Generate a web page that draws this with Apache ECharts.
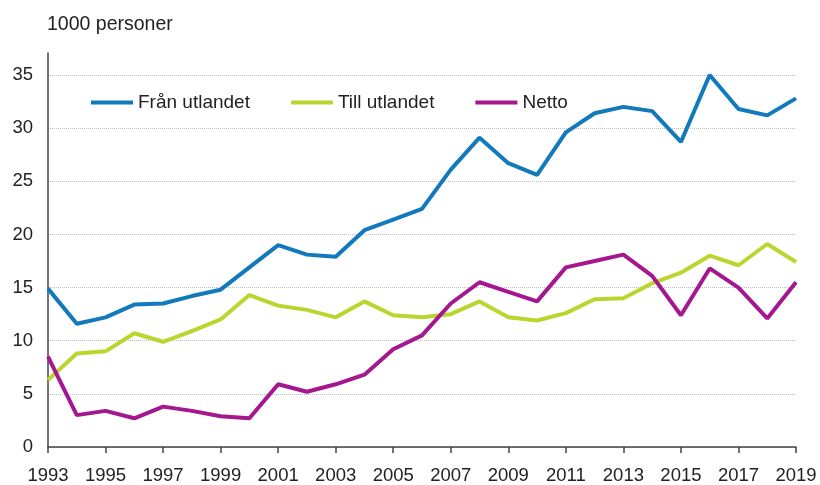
<!DOCTYPE html>
<html>
<head>
<meta charset="utf-8">
<script src="https://cdn.jsdelivr.net/npm/echarts@6/dist/echarts.min.js"></script>
<style>
  html, body { margin: 0; padding: 0; background: #fff; }
  #chart { width: 820px; height: 485px; }
</style>
</head>
<body>
<div id="chart"></div>
<script>
// Years on the x axis
const years = [
  "1993", "1994", "1995", "1996", "1997", "1998", "1999", "2000", "2001",
  "2002", "2003", "2004", "2005", "2006", "2007", "2008", "2009", "2010",
  "2011", "2012", "2013", "2014", "2015", "2016", "2017", "2018", "2019"
];

// Immigration, 1000 persons
const franUtlandet = [
  14.9, 11.6, 12.2, 13.4, 13.5, 14.2, 14.8, 16.9, 19.0,
  18.1, 17.9, 20.4, 21.4, 22.4, 26.1, 29.1, 26.7, 25.6,
  29.6, 31.4, 32.0, 31.6, 28.7, 35.0, 31.8, 31.2, 32.8
];

// Emigration, 1000 persons
const tillUtlandet = [
  6.3, 8.8, 9.0, 10.7, 9.9, 10.9, 12.0, 14.3, 13.3,
  12.9, 12.2, 13.7, 12.4, 12.2, 12.5, 13.7, 12.2, 11.9,
  12.6, 13.9, 14.0, 15.4, 16.4, 18.0, 17.1, 19.1, 17.4
];

// Net migration, 1000 persons
const netto = [
  8.5, 3.0, 3.4, 2.7, 3.8, 3.4, 2.9, 2.7, 5.9,
  5.2, 5.9, 6.8, 9.2, 10.5, 13.5, 15.5, 14.6, 13.7,
  16.9, 17.5, 18.1, 16.1, 12.4, 16.8, 15.0, 12.1, 15.5
];

const font = "Liberation Sans, Arial, sans-serif";
const textColor = "#222";

const chart = echarts.init(document.getElementById("chart"), null, { renderer: "canvas" });

chart.setOption({
  animation: false,
  color: ["#1279bd", "#bcd52e", "#a5178f"],
  title: {
    text: "1000 personer",
    left: 42,
    top: 10,
    textStyle: { fontFamily: font, fontSize: 19.5, fontWeight: "normal", color: textColor }
  },
  legend: {
    left: 86,
    top: 88,
    itemWidth: 42,
    itemHeight: 4,
    itemGap: 41,
    icon: "rect",
    textStyle: { fontFamily: font, fontSize: 19, color: textColor }
  },
  grid: [
    { left: 48, right: 24, top: 75, bottom: 38 },
    // only used to draw the taller y axis line
    { left: 48, right: 24, top: 53, bottom: 38 }
  ],
  xAxis: [
    {
      type: "category",
      gridIndex: 0,
      data: years,
      boundaryGap: false,
      axisLine: { lineStyle: { color: "#444", width: 1.5 } },
      axisTick: { interval: 1, length: 6, lineStyle: { color: "#444", width: 1.5 } },
      axisLabel: { interval: 1, margin: 19, fontFamily: font, fontSize: 18.5, color: textColor }
    },
    { type: "category", gridIndex: 1, data: years, show: false }
  ],
  yAxis: [
    {
      type: "value",
      gridIndex: 0,
      min: 0,
      max: 35,
      interval: 5,
      axisLine: { show: false },
      axisTick: { show: false },
      axisLabel: { margin: 15, fontFamily: font, fontSize: 18.5, color: textColor },
      splitLine: { lineStyle: { color: "#bdbdbd", type: "dotted", width: 1 } }
    },
    {
      type: "value",
      gridIndex: 1,
      min: 0,
      max: 37,
      axisLine: { show: true, lineStyle: { color: "#444", width: 1.5 } },
      axisTick: { show: false },
      axisLabel: { show: false },
      splitLine: { show: false }
    }
  ],
  series: [
    {
      name: "Från utlandet",
      type: "line",
      data: franUtlandet,
      symbol: "none",
      lineStyle: { width: 4 }
    },
    {
      name: "Till utlandet",
      type: "line",
      data: tillUtlandet,
      symbol: "none",
      lineStyle: { width: 4 }
    },
    {
      name: "Netto",
      type: "line",
      data: netto,
      symbol: "none",
      lineStyle: { width: 4 }
    }
  ]
});
</script>
</body>
</html>
